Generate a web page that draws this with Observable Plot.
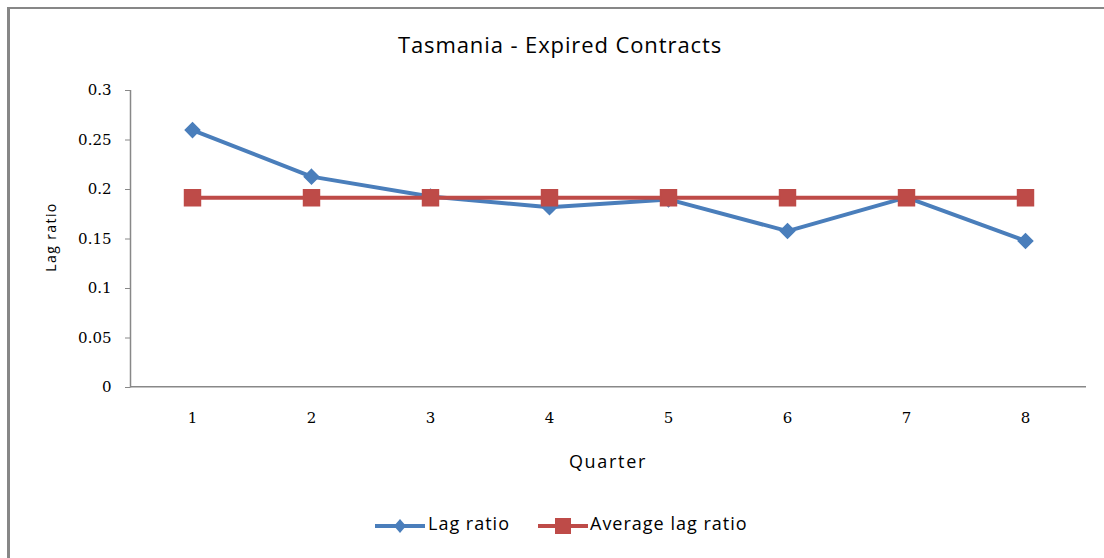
<!DOCTYPE html>
<html>
<head>
<meta charset="utf-8">
<script src="https://cdn.jsdelivr.net/npm/d3@7"></script>
<script src="https://cdn.jsdelivr.net/npm/@observablehq/plot@0.6"></script>
<style>
  html, body { margin: 0; padding: 0; background: #fff; width: 1104px; height: 558px; overflow: hidden; }
  #wrap { position: relative; width: 1104px; height: 558px; }
  #border { position: absolute; left: 7px; top: 7px; width: 1200px; height: 700px; border-top: 2px solid #878787; border-left: 3px solid #878787; box-sizing: border-box; }
  #chart { position: absolute; left: 0; top: 0; }
  .t { position: absolute; font-family: "Open Sans", sans-serif; color: #000; white-space: nowrap; }
  #title { left: 560px; top: 29px; transform: translateX(-50%); font-size: 22px; letter-spacing: 0.9px; }
  #ylab { left: 50px; top: 237px; transform: translate(-50%, -50%) rotate(-90deg); font-size: 14px; letter-spacing: 1.4px; }
  #xlab { left: 608px; top: 449px; transform: translateX(-50%); font-size: 18px; letter-spacing: 1.7px; }
  #legend { position: absolute; left: 375px; top: 511px; height: 30px; font-family: "Open Sans", sans-serif; font-size: 18px; letter-spacing: 1.0px; }
  .li { position: absolute; top: 0; white-space: nowrap; }
  .li svg { position: absolute; top: 5px; left: 0; }
  .li span { position: absolute; top: 0; }
</style>
</head>
<body>
<div id="wrap">
  <div id="border"></div>
  <div id="chart"></div>
  <div class="t" id="title">Tasmania - Expired Contracts</div>
  <div class="t" id="ylab">Lag ratio</div>
  <div class="t" id="xlab">Quarter</div>
  <div id="legend"></div>
</div>
<script>
const quarters = [1, 2, 3, 4, 5, 6, 7, 8];
const lagRatio = [0.26, 0.213, 0.193, 0.182, 0.19, 0.158, 0.192, 0.148];
const averageLagRatio = [0.1917, 0.1917, 0.1917, 0.1917, 0.1917, 0.1917, 0.1917, 0.1917];
const yTicks = [0, 0.05, 0.1, 0.15, 0.2, 0.25, 0.3];
const seriesNames = ["Lag ratio", "Average lag ratio"];

const blue = "#4A7EBB";
const red = "#BE4B48";

const lagData = quarters.map((q, i) => ({q, v: lagRatio[i]}));
const avgData = quarters.map((q, i) => ({q, v: averageLagRatio[i]}));

const chart = Plot.plot({
  width: 1104,
  height: 480,
  marginLeft: 130,
  marginRight: 18,
  marginTop: 90,
  marginBottom: 93,
  x: {type: "point", domain: quarters, padding: 0.5},
  y: {domain: [0, 0.3]},
  marks: [
    Plot.axisY({ticks: yTicks, tickSize: 5, tickPadding: 14, tickFormat: d => String(d), label: null,
      fontSize: 15, fontFamily: "DejaVu Serif", stroke: "#888", color: "#000"}),
    Plot.axisX({tickSize: 0, tickPadding: 25, label: null, fontSize: 15, fontFamily: "DejaVu Serif", color: "#000"}),
    Plot.lineY(lagData, {x: "q", y: "v", stroke: blue, strokeWidth: 4}),
    Plot.dot(lagData, {x: "q", y: "v", symbol: "diamond2", r: 6.5, fill: blue, stroke: blue}),
    Plot.lineY(avgData, {x: "q", y: "v", stroke: red, strokeWidth: 4}),
    Plot.dot(avgData, {x: "q", y: "v", symbol: "square", r: 9, fill: red, stroke: red})
  ]
});
document.getElementById("chart").appendChild(chart);

// axis lines along the frame (left and bottom)
const svg = d3.select(chart);
const frame = svg.insert("g", ":first-child").attr("stroke", "#888").attr("stroke-width", 1.5);
frame.append("line").attr("x1", 130.5).attr("x2", 130.5).attr("y1", 90).attr("y2", 387.5);
frame.append("line").attr("x1", 130).attr("x2", 1086).attr("y1", 386.75).attr("y2", 386.75);

// legend
const legend = d3.select("#legend");
const items = [
  {name: seriesNames[0], color: blue, sym: "diamond", x: 0, textX: 53},
  {name: seriesNames[1], color: red, sym: "square", x: 163, textX: 215}
];
for (const it of items) {
  const g = legend.append("div").attr("class", "li").style("left", it.x + "px");
  const s = g.append("svg").attr("width", 52).attr("height", 20);
  s.append("line").attr("x1", 0).attr("x2", 50).attr("y1", 10).attr("y2", 10).attr("stroke", it.color).attr("stroke-width", 4);
  if (it.sym === "diamond") {
    s.append("path").attr("d", "M25,3 L31,10 L25,17 L19,10 Z").attr("fill", it.color);
  } else {
    s.append("rect").attr("x", 17).attr("y", 2).attr("width", 16).attr("height", 16).attr("fill", it.color);
  }
  g.append("span").style("left", (it.textX - it.x) + "px").text(it.name);
}
</script>
</body>
</html>
